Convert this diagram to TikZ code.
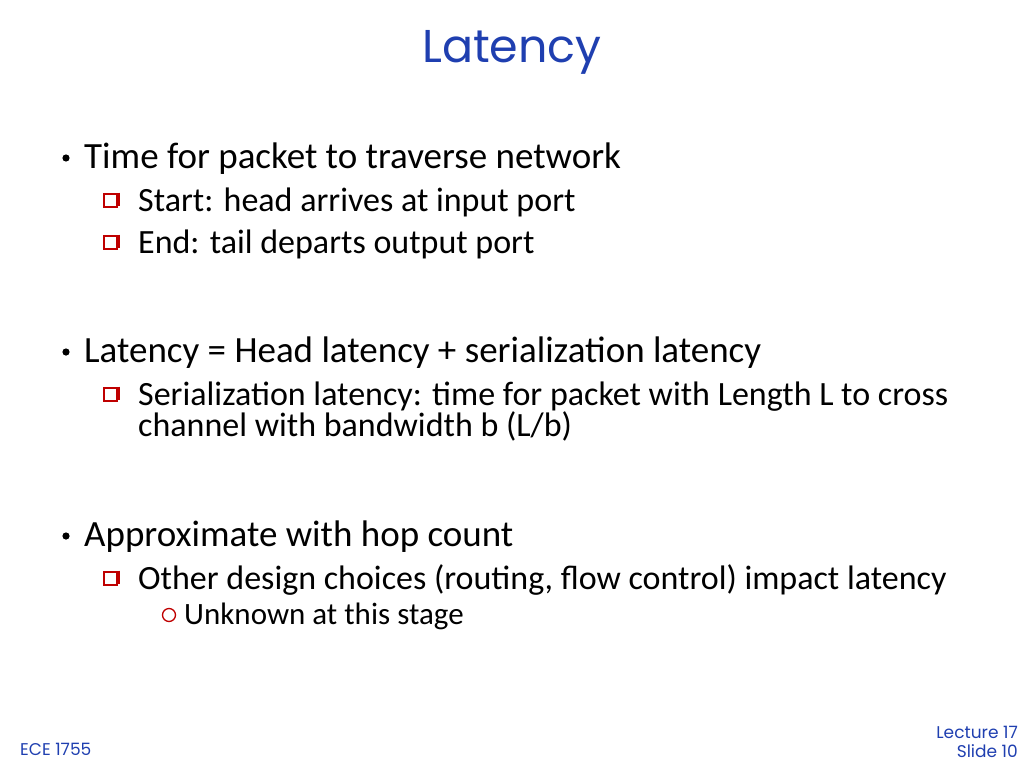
\documentclass[tikz,border=0pt]{standalone}
\usepackage{fontspec}
\setmainfont{Carlito}
\newfontfamily\titlefont{Poppins}
\definecolor{slideblue}{HTML}{1F3FB0}
\tikzset{
  lvlone/.style={anchor=base west, inner sep=0pt, font=\fontsize{37}{40}\selectfont},
  lvltwo/.style={anchor=base west, inner sep=0pt, font=\fontsize{34}{38}\selectfont},
  lvlthree/.style={anchor=base west, inner sep=0pt, font=\fontsize{31}{34}\selectfont},
  footer/.style={inner sep=0pt, text=slideblue, font=\titlefont\fontsize{17}{19}\selectfont, align=right}
}
\newcommand{\dotmark}[1]{\fill (#1) ++(-18,-10) circle(3.6);}
\newcommand{\boxmark}[1]{%
  \draw[line width=1.4pt, red!75!black] (#1) ++(-34,-17) rectangle ++(13,13);
  \draw[line width=2.4pt, red!75!black] (#1) ++(-19,-18.5) -- ++(0,13);}
\newcommand{\ringmark}[1]{\draw[line width=1.3pt, red!75!black] (#1) ++(-15,-9) circle(6.5);}
\begin{document}
\begin{tikzpicture}[x=1pt,y=-1pt]
  \useasboundingbox (0,0) rectangle (1024,768);

  % Titre
  \node[text=slideblue, font=\titlefont\fontsize{46}{50}\selectfont] (title) at (512,52) {Latency};

  % Premier point
  \node[lvlone] (traverse) at (84,168) {Time for packet to traverse network};
  \node[lvltwo] (start) at (138,211) {Start: head arrives at input port};
  \node[lvltwo] (end) at (138,253) {End: tail departs output port};

  % Deuxieme point
  \node[lvlone] (lat) at (84,362) {Latency = Head latency + serialization latency};
  \node[lvltwo] (serial) at (138,405) {Serialization latency: time for packet with Length L to cross};
  \node[lvltwo] (channel) at (138,436) {channel with bandwidth b (L/b)};

  % Troisieme point
  \node[lvlone] (hop) at (84,546) {Approximate with hop count};
  \node[lvltwo] (other) at (138,589) {Other design choices (routing, flow control) impact latency};
  \node[lvlthree] (unknown) at (184,624) {Unknown at this stage};

  % Puces
  \dotmark{traverse.base west}
  \dotmark{lat.base west}
  \dotmark{hop.base west}
  \boxmark{start.base west}
  \boxmark{end.base west}
  \boxmark{serial.base west}
  \boxmark{other.base west}
  \ringmark{unknown.base west}

  % Pied de page
  \node[footer, anchor=west] (course) at (20,749) {ECE 1755};
  \node[footer, anchor=east] (slide) at (1018,742) {Lecture 17\\Slide 10};
\end{tikzpicture}
\end{document}
